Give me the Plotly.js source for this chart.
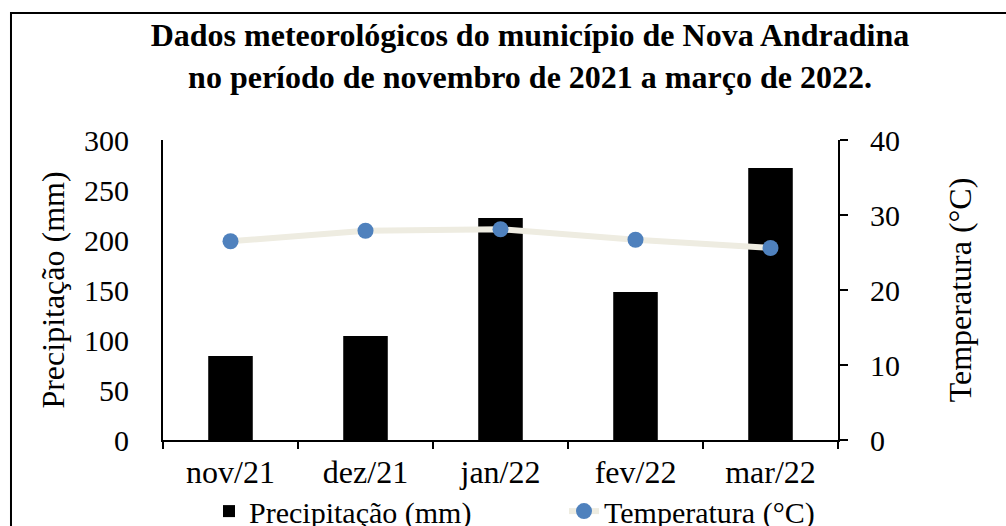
<!DOCTYPE html>
<html>
<head>
<meta charset="utf-8">
<script src="https://cdn.plot.ly/plotly-3.0.1.min.js"></script>
<style>html,body{margin:0;padding:0;background:#fff;}#chart{width:1006px;height:526px;}</style>
</head>
<body>
<div id="chart"></div>
<script>
const months = ["nov/21", "dez/21", "jan/22", "fev/22", "mar/22"];
const precipitation = [84, 104, 222, 148, 272];
const temperature = [26.5, 27.9, 28.1, 26.7, 25.6];
const leftTicks = [0, 50, 100, 150, 200, 250, 300];
const rightTicks = [0, 10, 20, 30, 40];

const FONT = "Liberation Serif, Times New Roman, serif";

const traces = [
  {
    type: "bar",
    name: "Precipitação (mm)",
    x: months,
    y: precipitation,
    width: 0.33,
    marker: {color: "#000000", line: {width: 0}},
    yaxis: "y"
  },
  {
    type: "scatter",
    mode: "lines+markers",
    name: "Temperatura (°C)",
    x: months,
    y: temperature,
    yaxis: "y2",
    line: {color: "#EEECE1", width: 6},
    marker: {color: "#4F81BD", size: 16, line: {width: 0}}
  }
];

const layout = {
  width: 1006,
  height: 526,
  margin: {l: 163, r: 168, t: 140, b: 86, autoexpand: false},
  paper_bgcolor: "#ffffff",
  plot_bgcolor: "#ffffff",
  font: {family: FONT, size: 30, color: "#000"},
  title: {
    text: "<b>Dados meteorológicos do município de Nova Andradina<br>no período de novembro de 2021 a março de 2022.</b>",
    font: {family: FONT, size: 32, color: "#000"},
    x: 0.5437, xref: "paper", xanchor: "center",
    y: 0.912, yref: "container", yanchor: "top",
    automargin: false
  },
  showlegend: true,
  legend: {
    orientation: "h",
    xref: "paper", yref: "paper",
    x: 1.12, xanchor: "right",
    y: -0.237, yanchor: "middle",
    font: {family: FONT, size: 30, color: "#000"},
    bgcolor: "rgba(0,0,0,0)",
    entrywidth: 310, entrywidthmode: "pixels",
    traceorder: "normal"
  },
  xaxis: {
    type: "category",
    automargin: false,
    showline: true, linecolor: "#000", linewidth: 2,
    ticks: "outside", tickson: "boundaries", ticklen: 7, tickcolor: "#000", tickwidth: 2,
    showgrid: false, zeroline: false,
    tickfont: {family: FONT, size: 32, color: "#000"},
    ticklabelstandoff: 3
  },
  yaxis: {
    range: [0, 300],
    automargin: false,
    tickvals: leftTicks,
    showline: true, linecolor: "#000", linewidth: 2,
    ticks: "", showgrid: false, zeroline: false,
    tickfont: {family: FONT, size: 30, color: "#000"},
    ticklabelstandoff: 26,
    title: {text: "Precipitação (mm)", font: {family: FONT, size: 32, color: "#000"}, standoff: 10}
  },
  yaxis2: {
    range: [0, 40],
    automargin: false,
    tickvals: rightTicks,
    overlaying: "y", side: "right",
    showline: true, linecolor: "#000", linewidth: 2,
    ticks: "outside", ticklen: 8, tickcolor: "#000", tickwidth: 2,
    showgrid: false, zeroline: false,
    tickfont: {family: FONT, size: 30, color: "#000"},
    ticklabelstandoff: 16,
    title: {text: "Temperatura (°C)", font: {family: FONT, size: 32, color: "#000"}, standoff: 50}
  },
  shapes: [
    {type: "rect", xref: "paper", yref: "paper", x0: -0.2252, x1: 1.26, y0: -0.32, y1: 1.4233,
     line: {color: "#000", width: 2}, fillcolor: "rgba(0,0,0,0)", layer: "below"}
  ]
};

Plotly.newPlot("chart", traces, layout, {displayModeBar: false, staticPlot: true});
</script>
</body>
</html>
